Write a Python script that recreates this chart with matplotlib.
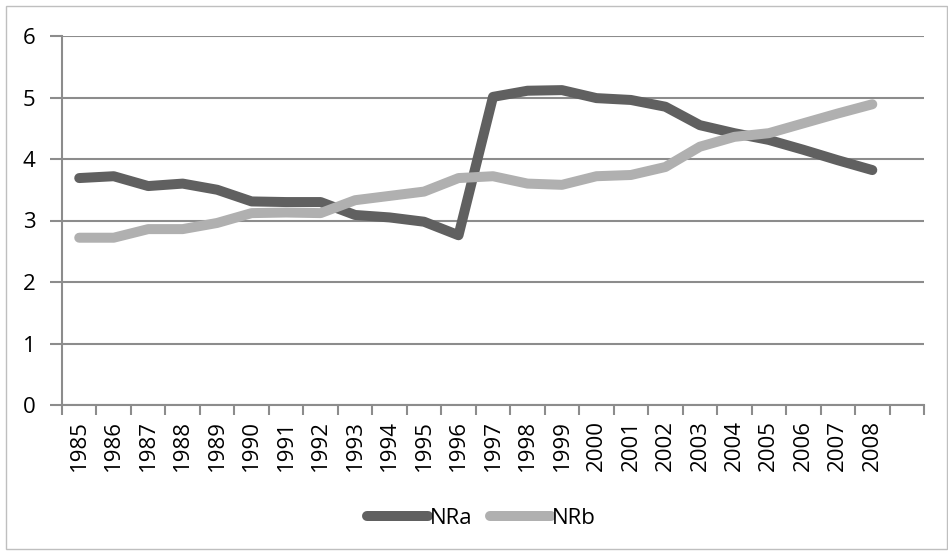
import numpy as np
import matplotlib.pyplot as plt
from matplotlib.patches import Rectangle

years = [str(y) for y in range(1985, 2009)]
nra = [3.69, 3.72, 3.56, 3.60, 3.50, 3.31, 3.30, 3.30, 3.09, 3.05, 2.98, 2.76,
       5.01, 5.11, 5.12, 4.99, 4.96, 4.85, 4.55, 4.42, 4.31, 4.15, 3.98, 3.82]
nrb = [2.72, 2.72, 2.86, 2.86, 2.96, 3.12, 3.13, 3.12, 3.33, 3.40, 3.47, 3.69,
       3.72, 3.60, 3.58, 3.72, 3.74, 3.87, 4.20, 4.36, 4.42, 4.58, 4.74, 4.89]

plt.rcParams['font.family'] = ['Open Sans', 'DejaVu Sans']

fig = plt.figure(figsize=(9.48, 5.55), dpi=100)
ax = fig.add_axes([62/948, 1-405/555, (924-62)/948, (405-36)/555])

x = np.arange(len(years)) + 0.5
ax.plot(x, nra, color='#606060', lw=7.2, solid_capstyle='round', solid_joinstyle='round', label='NRa')
ax.plot(x, nrb, color='#b0b0b0', lw=7.2, solid_capstyle='round', solid_joinstyle='round', label='NRb')

ax.set_xlim(0, len(years) + 1)
ax.set_ylim(0, 6)
ax.set_yticks(range(7))
ax.set_xticks(np.arange(len(years) + 2), minor=False)
ax.set_xticklabels([])
ax.set_xticks(x, minor=True)
ax.set_xticklabels(years, minor=True, rotation=90)
ax.tick_params(axis='x', which='minor', length=0, labelsize=16, pad=11)
ax.tick_params(axis='x', which='major', length=7, color='#8c8c8c', width=1.5)
ax.tick_params(axis='y', length=9, color='#8c8c8c', width=1.5, labelsize=16, pad=10)

ax.grid(axis='y', color='#8c8c8c', lw=1.5)
ax.set_axisbelow(True)
for s in ['top', 'right']:
    ax.spines[s].set_visible(False)
for s in ['left', 'bottom']:
    ax.spines[s].set_color('#8c8c8c')
    ax.spines[s].set_linewidth(1.5)

fig.legend(loc='center', bbox_to_anchor=(0.508, 1-518/555), ncol=2, frameon=False,
           fontsize=16, handlelength=2.75, handletextpad=0.05, columnspacing=0.8)

fig.patches.append(Rectangle((6/948, 1-549/555), 941/948, 543/555, transform=fig.transFigure,
                             fill=False, edgecolor='#bfbfbf', lw=1))

fig.savefig('out.png', dpi=100)
